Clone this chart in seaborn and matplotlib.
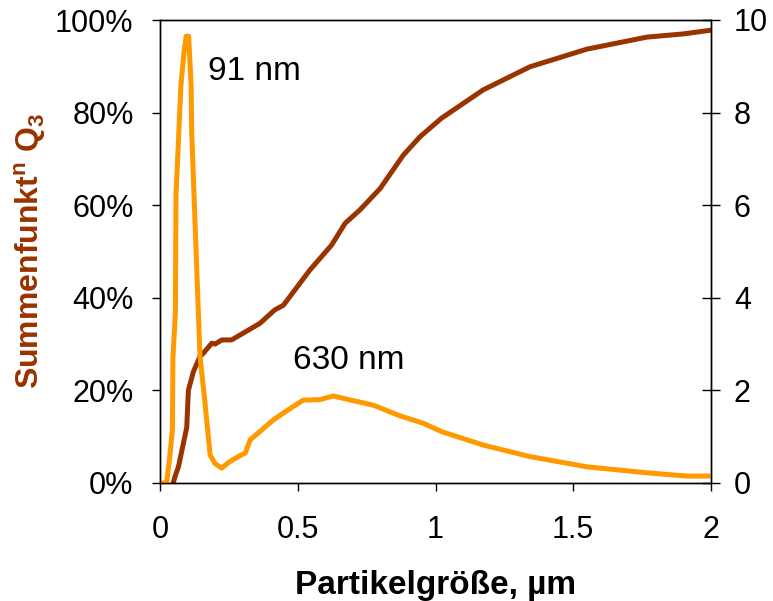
import numpy as np
import pandas as pd
import matplotlib
matplotlib.use("Agg")
import matplotlib.pyplot as plt
from matplotlib.ticker import PercentFormatter
import seaborn as sns

# cumulative distribution Q3 (%), left axis
q3_size = [0.048, 0.055, 0.067, 0.085, 0.097, 0.103, 0.121, 0.145, 0.157, 0.188, 0.2,
           0.224, 0.26, 0.363, 0.4, 0.417, 0.448, 0.544, 0.623, 0.672, 0.726, 0.799,
           0.883, 0.944, 1.022, 1.173, 1.343, 1.549, 1.767, 1.9, 2.0]
q3_cum = [0, 1.5, 3.5, 8.6, 12, 20, 24, 27.3, 28, 30.2, 30, 30.9, 30.9, 34.5, 36.5,
          37.4, 38.4, 46, 51.4, 56.1, 59, 63.6, 70.8, 74.8, 78.8, 84.9, 89.9, 93.7,
          96.3, 97, 97.8]

# density distribution q3, right axis
dens_size = [0, 0.024, 0.036, 0.045, 0.047, 0.056, 0.058, 0.076, 0.088, 0.095, 0.104,
             0.113, 0.115, 0.145, 0.163, 0.182, 0.2, 0.224, 0.25, 0.284, 0.31, 0.327,
             0.37, 0.411, 0.47, 0.52, 0.58, 0.629, 0.7, 0.775, 0.871, 0.956, 1.022,
             1.173, 1.343, 1.549, 1.767, 1.912, 2.0]
dens_val = [0, 0, 0.6, 1.15, 2.7, 3.7, 6.2, 8.6, 9.35, 9.65, 9.65, 8.6, 7.6, 2.75,
            1.75, 0.6, 0.42, 0.32, 0.45, 0.57, 0.65, 0.93, 1.15, 1.36, 1.6, 1.79, 1.8,
            1.88, 1.78, 1.68, 1.45, 1.29, 1.11, 0.82, 0.57, 0.35, 0.22, 0.15, 0.15]

peak_labels = ["91 nm", "630 nm"]

sns.set_style("ticks")
plt.rcParams['font.family'] = ['Liberation Sans', 'DejaVu Sans']
plt.rcParams['text.color'] = 'black'
plt.rcParams['axes.labelcolor'] = 'black'
plt.rcParams['mathtext.fontset'] = 'custom'
plt.rcParams['mathtext.rm'] = 'Liberation Sans'
plt.rcParams['mathtext.bf'] = 'Liberation Sans:bold'

brown = '#993300'
orange = '#FF9900'

fig = plt.figure(figsize=(7.73, 6.01), dpi=100)
ax = fig.add_axes([160 / 773, 1 - 483 / 601, 551 / 773, 463 / 601])
ax2 = ax.twinx()

cum = pd.DataFrame({'size': q3_size, 'Q3': q3_cum})
dens = pd.DataFrame({'size': dens_size, 'q3': dens_val})
sns.lineplot(data=cum, x='size', y='Q3', ax=ax, color=brown, lw=3.6, sort=False)
sns.lineplot(data=dens, x='size', y='q3', ax=ax2, color=orange, lw=3.6, sort=False)

ax.set_xlim(0, 2)
ax.set_ylim(0, 100)
ax2.set_ylim(0, 10)
ax.set_xticks([0, 0.5, 1, 1.5, 2])
ax.set_xticklabels(['0', '0.5', '1', '1.5', '2'])
ax.set_yticks(np.arange(0, 101, 20))
ax.yaxis.set_major_formatter(PercentFormatter(100, decimals=0))
ax2.set_yticks(np.arange(0, 11, 2))

for a in (ax, ax2):
    for s in a.spines.values():
        s.set_color('black')
        s.set_linewidth(1.0)
ax.tick_params(axis='both', labelsize=22, colors='black', length=6, width=1, direction='out')
ax.tick_params(axis='x', pad=17)
ax.tick_params(axis='y', pad=13)
ax2.tick_params(axis='y', labelsize=22, colors='black', length=13, width=1,
                direction='inout', pad=10)

ax.set_xlabel('Partikelgröße, µm', fontsize=24, fontweight='bold', labelpad=18)
ax.set_ylabel(r'Summenfunkt$^{\mathbf{n}}$ Q$_{\mathbf{3}}$', fontsize=23,
              fontweight='bold', color=brown, labelpad=5)
ax2.set_ylabel('')

ax.text(0.174, 88.8, peak_labels[0], fontsize=24, va='center', ha='left')
ax.text(0.483, 26.4, peak_labels[1], fontsize=24, va='center', ha='left')

fig.savefig('out.png', dpi=100)
